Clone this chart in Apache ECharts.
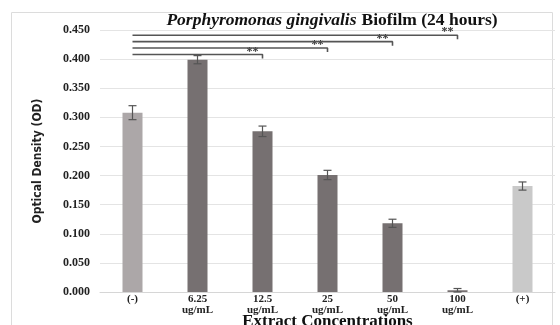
<!DOCTYPE html>
<html>
<head>
<meta charset="utf-8">
<script src="https://cdn.jsdelivr.net/npm/echarts@6/dist/echarts.min.js"></script>
<style>
html,body{margin:0;padding:0;background:#fff;}
#chart{width:560px;height:325px;}
</style>
</head>
<body>
<div id="chart"></div>
<script>
// Biofilm optical density per extract concentration
const categories = ['(-)', '6.25\nug/mL', '12.5\nug/mL', '25\nug/mL', '50\nug/mL', '100\nug/mL', '(+)'];
const odValues = [0.308, 0.399, 0.276, 0.201, 0.118, 0.003, 0.182];
const odErrors = [0.012, 0.007, 0.009, 0.008, 0.007, 0.003, 0.007];
const barColors = ['#aca7a8', '#767071', '#767071', '#767071', '#767071', '#767071', '#c9c9c9'];
const yTicks = [0, 0.05, 0.1, 0.15, 0.2, 0.25, 0.3, 0.35, 0.4, 0.45];

// Significance brackets from the negative control to each treatment
const bracketEnds = [5, 4, 3, 2];
const bracketLevels = [0.441, 0.430, 0.419, 0.408];
const bracketDrop = 0.007;

const serif = '"Liberation Serif", "DejaVu Serif", serif';

const chart = echarts.init(document.getElementById('chart'));

const bracketSeries = bracketEnds.map((end, i) => ({
  type: 'line',
  silent: true,
  symbol: 'none',
  lineStyle: { color: '#555', width: 1.6 },
  data: [[categories[0], bracketLevels[i]], [categories[end], bracketLevels[i]], [categories[end], bracketLevels[i] - bracketDrop]],
  label: { show: false },
  z: 5,
  markPoint: {
    symbol: 'rect',
    symbolSize: 0,
    label: {
      show: true,
      formatter: '**',
      color: '#333',
      fontFamily: serif,
      fontWeight: 'bold',
      fontSize: 12,
      offset: [-10, -3]
    },
    data: [{ coord: [categories[end], bracketLevels[i]] }]
  }
}));

chart.setOption({
  animation: false,
  title: {
    text: '{i|Porphyromonas gingivalis} {b|Biofilm (24 hours)}',
    left: 327,
    textAlign: 'center',
    top: 6,
    textStyle: {
      rich: {
        i: { fontFamily: serif, fontStyle: 'italic', fontWeight: 'bold', fontSize: 17.5, color: '#111' },
        b: { fontFamily: serif, fontWeight: 'bold', fontSize: 17.5, color: '#111' }
      }
    }
  },
  graphic: [{
    type: 'rect',
    shape: { x: 11.5, y: 12.5, width: 541, height: 320 },
    style: { fill: 'none', stroke: '#dcdcdc', lineWidth: 1 },
    silent: true,
    z: -1
  }],
  grid: { left: 100, right: 5, top: 30, bottom: 33, containLabel: false, outerBoundsMode: 'none' },
  xAxis: {
    type: 'category',
    data: categories,
    axisTick: { show: false },
    axisLine: { lineStyle: { color: '#d6d6d6' } },
    axisLabel: {
      fontFamily: serif, fontWeight: 'bold', fontSize: 11, color: '#222',
      lineHeight: 11, margin: 2, interval: 0
    },
    name: 'Extract Concentrations',
    nameLocation: 'middle',
    nameGap: 21,
    nameMoveOverlap: false,
    nameTextStyle: { fontFamily: serif, fontWeight: 'bold', fontSize: 17, color: '#111' }
  },
  yAxis: {
    type: 'value',
    min: 0,
    max: 0.45,
    interval: 0.05,
    axisLabel: {
      fontFamily: serif, fontWeight: 'bold', fontSize: 12, color: '#222', margin: 10,
      formatter: v => v.toFixed(3)
    },
    splitLine: { lineStyle: { color: '#e4e4e4' } },
    axisLine: { show: false },
    axisTick: { show: false },
    name: 'Optical Density (OD)',
    nameLocation: 'middle',
    nameGap: 56,
    nameMoveOverlap: false,
    nameRotate: 90,
    nameTextStyle: {
      fontFamily: '"DejaVu Sans Condensed", "Liberation Sans Narrow", sans-serif',
      fontWeight: 'bold', fontSize: 12, color: '#222'
    }
  },
  series: [
    {
      type: 'bar',
      barWidth: 20,
      data: odValues.map((v, i) => ({ value: v, itemStyle: { color: barColors[i] } })),
      z: 2
    },
    {
      type: 'custom',
      z: 3,
      renderItem: (params, api) => {
        const i = api.value(0);
        const v = api.value(1);
        const e = api.value(2);
        const top = api.coord([i, v + e]);
        const bot = api.coord([i, v - e]);
        const half = 4;
        const style = { stroke: '#555', lineWidth: 1.2 };
        return {
          type: 'group',
          children: [
            { type: 'line', shape: { x1: top[0], y1: top[1], x2: bot[0], y2: bot[1] }, style },
            { type: 'line', shape: { x1: top[0] - half, y1: top[1], x2: top[0] + half, y2: top[1] }, style },
            { type: 'line', shape: { x1: bot[0] - half, y1: bot[1], x2: bot[0] + half, y2: bot[1] }, style }
          ]
        };
      },
      data: odValues.map((v, i) => [i, v, odErrors[i]])
    },
    ...bracketSeries
  ]
});
</script>
</body>
</html>
